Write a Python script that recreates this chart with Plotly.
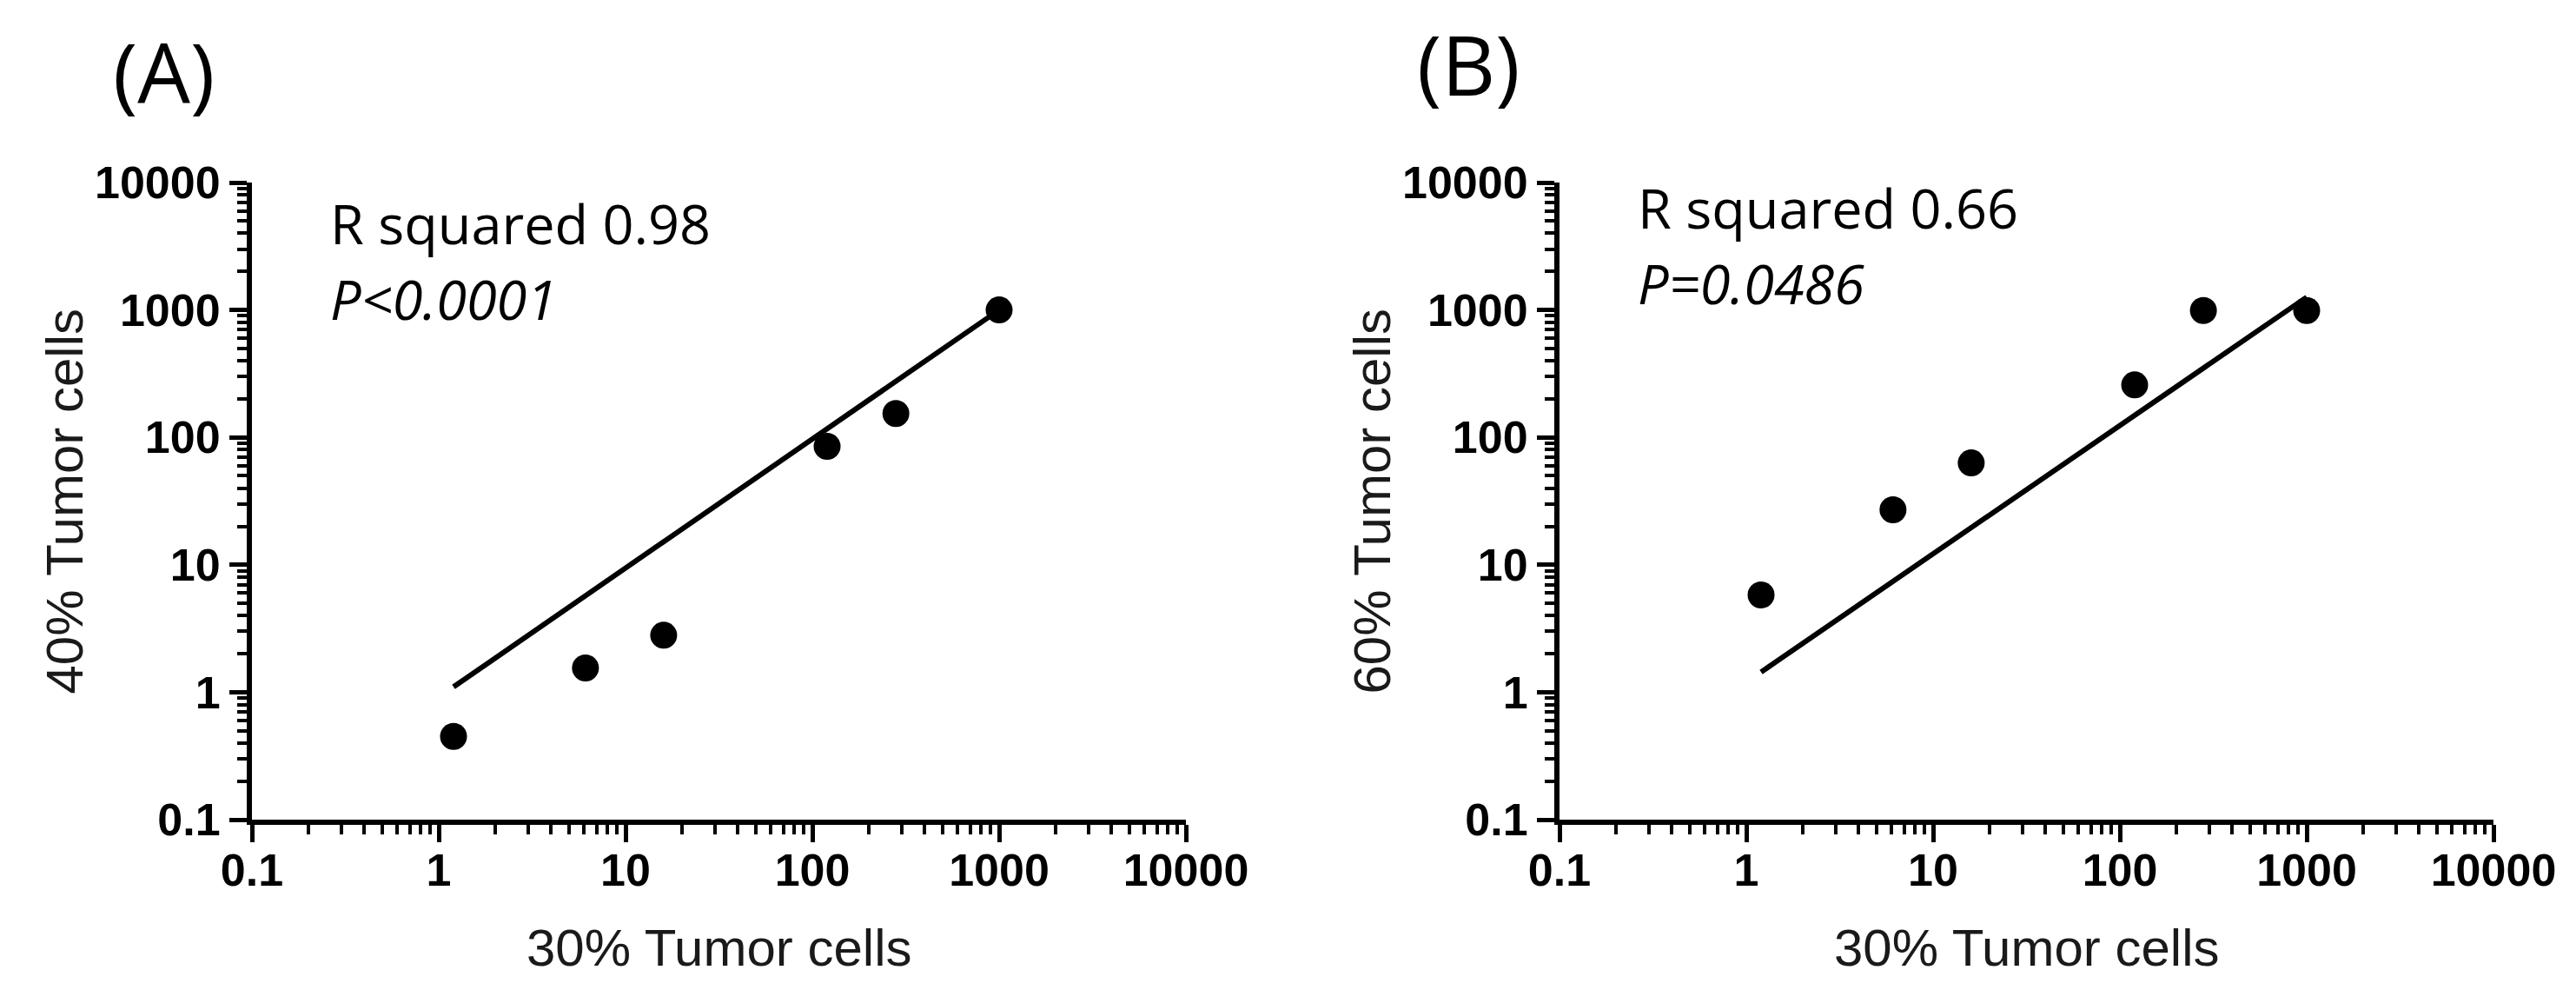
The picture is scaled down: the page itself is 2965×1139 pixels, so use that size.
import plotly.graph_objects as go

# ---- data ----
x_30 = [1.2, 6.1, 16, 120, 280, 1000]
y_40 = [0.45, 1.55, 2.8, 85, 154, 1000]
y_60 = [5.8, 27, 63, 258, 990, 990]

fit_x = [1.2, 1000]
fit_40 = [1.1, 1000]
fit_60 = [1.44, 1260]

tick_vals = [0.1, 1, 10, 100, 1000, 10000]
tick_text = ["0.1", "1", "10", "100", "1000", "10000"]

panel_labels = ["(A)", "(B)"]
stat_lines_A = ["R squared 0.98", "<i>P&lt;0.0001</i>"]
stat_lines_B = ["R squared 0.66", "<i>P=0.0486</i>"]
x_title = "30% Tumor cells"
y_titles = ["40% Tumor cells", "60% Tumor cells"]

# ---- layout geometry (pixels) ----
W, H = 2965, 1139
axA = (290, 1365)
axB = (1795, 2870)
y_bot, y_top = 943, 210

def px(v):
    return v / W

def py(v):
    return 1 - v / H

fig = go.Figure()
for xs, ys, fy, xa, ya in [(x_30, y_40, fit_40, "x", "y"), (x_30, y_60, fit_60, "x2", "y2")]:
    fig.add_trace(go.Scatter(x=fit_x, y=fy, mode="lines",
                             line=dict(color="black", width=6),
                             xaxis=xa, yaxis=ya, showlegend=False, hoverinfo="skip"))
    fig.add_trace(go.Scatter(x=xs, y=ys, mode="markers",
                             marker=dict(color="black", size=31, line=dict(width=0)),
                             xaxis=xa, yaxis=ya, showlegend=False))

tickfont = dict(family="Liberation Sans, Arial", size=52, color="black", weight="bold")
common = dict(type="log", range=[-1, 4], tickvals=tick_vals, ticktext=tick_text,
              showline=True, linecolor="black", linewidth=6, mirror=False,
              ticks="outside", ticklen=20, tickwidth=5, tickcolor="black",
              showgrid=False, zeroline=False, tickfont=tickfont, automargin=False,
              minor=dict(ticks="outside", ticklen=11, tickwidth=4, tickcolor="black",
                         dtick="D1", showgrid=False))

fig.update_layout(
    width=W, height=H,
    margin=dict(l=0, r=0, t=0, b=0),
    paper_bgcolor="white", plot_bgcolor="white",
    xaxis=dict(domain=[px(axA[0]), px(axA[1])], anchor="y", ticklabelstandoff=-12, **common),
    yaxis=dict(domain=[py(y_bot), py(y_top)], anchor="x", **common),
    xaxis2=dict(domain=[px(axB[0]), px(axB[1])], anchor="y2", ticklabelstandoff=-12, **common),
    yaxis2=dict(domain=[py(y_bot), py(y_top)], anchor="x2", **common),
)

ann = []
title_font = dict(family="Liberation Sans, Arial", size=60, color="#1a1a1a")
stat_font = dict(family="Open Sans", size=63, color="black")
label_font = dict(family="Open Sans", size=96, color="black")

for i, (ax, lab, ytitle, stats, dy) in enumerate([
        (axA, panel_labels[0], y_titles[0], stat_lines_A, 0),
        (axB, panel_labels[1], y_titles[1], stat_lines_B, -18)]):
    cx = (ax[0] + ax[1]) / 2
    # x title
    ann.append(dict(text=x_title, x=px(cx), y=py(1090), xref="paper", yref="paper",
                    xanchor="center", yanchor="middle", showarrow=False, font=title_font))
    # y title
    ann.append(dict(text=ytitle, x=px(ax[0] - 216), y=py((y_bot + y_top) / 2),
                    xref="paper", yref="paper", xanchor="center", yanchor="middle",
                    textangle=-90, showarrow=False, font=title_font))
    # panel label
    ann.append(dict(text=lab, x=px(ax[0] - 102 - (i * 3)), y=py(81 + dy / 2), xref="paper", yref="paper",
                    xanchor="center", yanchor="middle", showarrow=False, font=label_font))
    # stats
    for j, s in enumerate(stats):
        ann.append(dict(text=s, x=px(ax[0] + 88), y=py(257 + 86 * j + dy), xref="paper", yref="paper",
                        xanchor="left", yanchor="middle", showarrow=False, font=stat_font))

fig.update_layout(annotations=ann)
fig.write_html("out.html", config={"displayModeBar": False},
               post_script="document.body.style.margin='0';document.body.style.padding='0';")
